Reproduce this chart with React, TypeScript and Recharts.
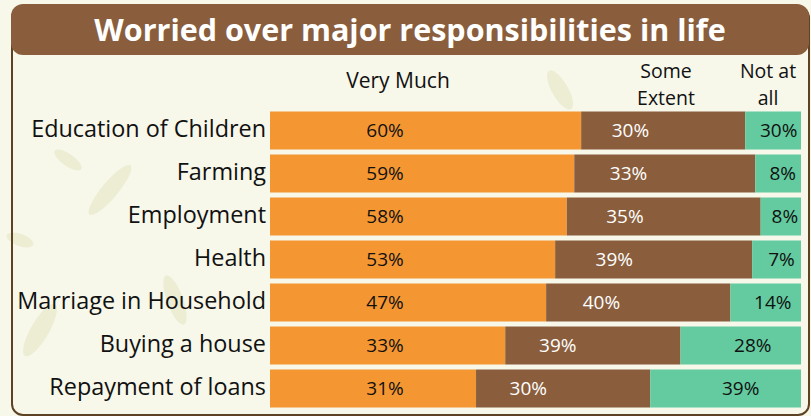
import React from 'react'
import { BarChart, Bar, XAxis, YAxis, LabelList } from 'recharts'

const categories = [
  'Education of Children',
  'Farming',
  'Employment',
  'Health',
  'Marriage in Household',
  'Buying a house',
  'Repayment of loans',
]

// bar lengths as drawn (share of the row)
const veryMuch = [58.6, 57.3, 55.9, 53.7, 52.0, 44.3, 38.8]
const someExtent = [30.9, 34.1, 36.5, 37.1, 34.7, 33.0, 32.8]
const notAtAll = [10.5, 8.6, 7.6, 9.2, 13.3, 22.7, 28.4]

// printed labels
const veryMuchLabels = ['60%', '59%', '58%', '53%', '47%', '33%', '31%']
const someExtentLabels = ['30%', '33%', '35%', '39%', '40%', '39%', '30%']
const notAtAllLabels = ['30%', '8%', '8%', '7%', '14%', '28%', '39%']

const headerLines = [
  { lines: ['Very Much'], center: 398, top: 67, size: 21 },
  { lines: ['Some', 'Extent'], center: 666, top: 57, size: 19.5 },
  { lines: ['Not at', 'all'], center: 768, top: 57, size: 19.5 },
]

const rows = categories.map((name, i) => ({
  name,
  veryMuch: veryMuch[i],
  someExtent: someExtent[i],
  notAtAll: notAtAll[i],
  veryMuchLabel: veryMuchLabels[i],
  someExtentLabel: someExtentLabels[i],
  notAtAllLabel: notAtAllLabels[i],
}))

const FONT = '"Open Sans", Lato, sans-serif'
const ORANGE = '#F49733'
const BROWN = '#8A5E3C'
const GREEN = '#63CB9F'
const CREAM = '#F7F7EA'

function segmentLabel(fill: string, place: (x: number, w: number) => number) {
  return (props: any) => {
    const { x, y, width, height, value } = props
    return (
      <text
        x={place(Number(x), Number(width))}
        y={Number(y) + Number(height) / 2 + 1}
        fill={fill}
        fontSize={19}
        fontFamily={FONT}
        textAnchor="middle"
        dominantBaseline="middle"
      >
        {value}
      </text>
    )
  }
}

function CategoryTick(props: any) {
  const { x, y, payload } = props
  return (
    <text
      x={x + 4}
      y={y + 1}
      fill="#111"
      fontSize={23.4}
      fontFamily={FONT}
      textAnchor="end"
      dominantBaseline="middle"
    >
      {payload.value}
    </text>
  )
}

export default function App() {
  return (
    <div
      style={{
        position: 'absolute',
        left: 0,
        top: 0,
        width: 811,
        height: 416,
        background: CREAM,
        overflow: 'hidden',
      }}
    >
      <svg width={811} height={416} style={{ position: 'absolute', left: 0, top: 0 }}>
        <g fill="#ECEDD2">
          <ellipse cx={68} cy={160} rx={16} ry={6} transform="rotate(35 68 160)" />
          <ellipse cx={110} cy={190} rx={32} ry={8} transform="rotate(-50 110 190)" />
          <ellipse cx={40} cy={330} rx={30} ry={9} transform="rotate(-60 40 330)" />
          <ellipse cx={175} cy={300} rx={26} ry={8} transform="rotate(70 175 300)" />
          <ellipse cx={230} cy={20} rx={22} ry={7} transform="rotate(-40 230 20)" />
          <ellipse cx={560} cy={90} rx={22} ry={8} transform="rotate(60 560 90)" />
          <ellipse cx={720} cy={40} rx={22} ry={7} transform="rotate(-30 720 40)" />
          <ellipse cx={20} cy={240} rx={14} ry={6} transform="rotate(20 20 240)" />
        </g>
      </svg>
      <div
        style={{
          position: 'absolute',
          left: 11,
          top: 6,
          width: 795,
          height: 406,
          border: '2px solid #5E4224',
          borderRadius: 12,
        }}
      />
      <div
        style={{
          position: 'absolute',
          left: 11,
          top: 4,
          width: 798,
          height: 51,
          background: BROWN,
          borderRadius: 12,
          color: '#fff',
          fontFamily: FONT,
          fontWeight: 700,
          fontSize: 30.5,
          lineHeight: '50px',
          textAlign: 'center',
        }}
      >
        Worried over major responsibilities in life
      </div>
      {headerLines.map((h) =>
        h.lines.map((line, j) => (
          <div
            key={h.center + line}
            style={{
              position: 'absolute',
              left: h.center - 60,
              top: h.top + j * 27,
              width: 120,
              height: 27,
              fontFamily: FONT,
              fontSize: h.size,
              lineHeight: '27px',
              color: '#111',
              textAlign: 'center',
            }}
          >
            {line}
          </div>
        ))
      )}
      <div style={{ position: 'absolute', left: 0, top: 0 }}>
        <BarChart
          width={811}
          height={416}
          data={rows}
          layout="vertical"
          margin={{ top: 108.5, right: 10, bottom: 6.5, left: 10 }}
          barSize={38}
        >
          <XAxis type="number" domain={[0, 100]} hide />
          <YAxis
            type="category"
            dataKey="name"
            width={260}
            axisLine={false}
            tickLine={false}
            tick={<CategoryTick />}
            interval={0}
          />
          <Bar dataKey="veryMuch" stackId="a" fill={ORANGE} isAnimationActive={false}>
            <LabelList dataKey="veryMuchLabel" content={segmentLabel('#111', (x) => x + 115)} />
          </Bar>
          <Bar dataKey="someExtent" stackId="a" fill={BROWN} isAnimationActive={false}>
            <LabelList dataKey="someExtentLabel" content={segmentLabel('#fff', (x, w) => x + w * 0.3)} />
          </Bar>
          <Bar dataKey="notAtAll" stackId="a" fill={GREEN} isAnimationActive={false}>
            <LabelList dataKey="notAtAllLabel" content={segmentLabel('#111', (x, w) => x + w * 0.6)} />
          </Bar>
        </BarChart>
      </div>
    </div>
  )
}
